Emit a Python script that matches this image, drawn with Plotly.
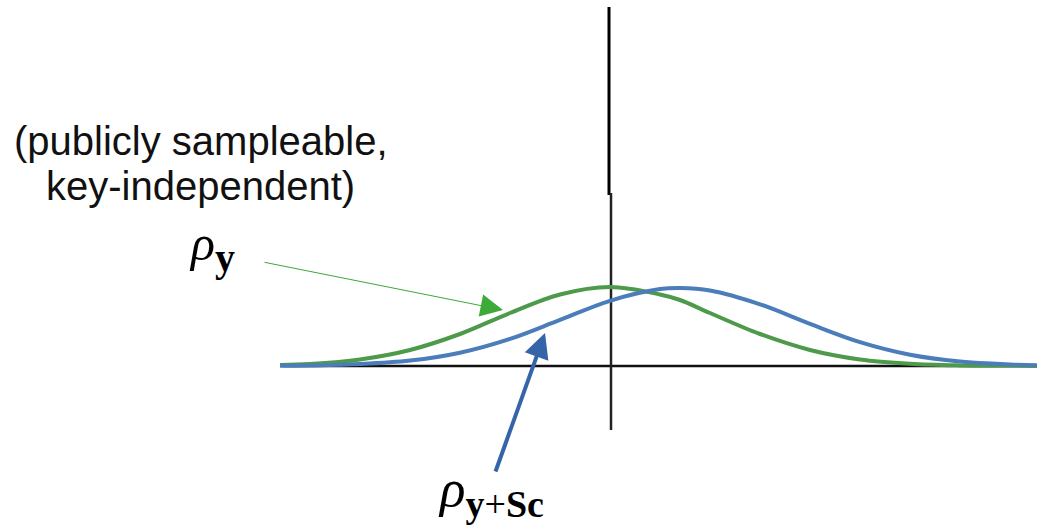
import plotly.graph_objects as go

# Sample positions along the horizontal axis (vertical axis sits at x = 0)
x_pts = [-3.3, -3.0, -2.5, -2.0, -1.5, -1.0, -0.5, 0.0, 0.5, 0.7, 1.0, 1.5,
         2.0, 2.5, 3.0, 3.5, 4.0, 4.27]

# Key-independent distribution rho_y (centred on the origin)
rho_y = [0.01, 0.02, 0.065, 0.16, 0.32, 0.53, 0.715, 0.79, 0.715, 0.66, 0.53,
         0.32, 0.16, 0.065, 0.022, 0.006, 0.002, 0.0]

# Shifted distribution rho_{y+Sc}
rho_y_sc = [0.002, 0.005, 0.019, 0.054, 0.133, 0.271, 0.461, 0.652, 0.769,
            0.78, 0.755, 0.617, 0.421, 0.239, 0.113, 0.045, 0.015, 0.007]

GREEN = "#4E9A4B"
BLUE = "#4A7DBA"

fig = go.Figure()

# Coordinate axes drawn as plain lines
fig.add_shape(type="line", x0=-3.27, x1=4.27, y0=0, y1=0,
              line=dict(color="#111111", width=2.5), layer="below")
fig.add_shape(type="line", x0=-0.01, x1=-0.01, y0=3.59, y1=1.71,
              line=dict(color="#000000", width=3), layer="below")
fig.add_shape(type="line", x0=0.01, x1=0.01, y0=1.73, y1=-0.64,
              line=dict(color="#222222", width=2.5), layer="below")

fig.add_trace(go.Scatter(x=x_pts, y=rho_y, mode="lines",
                         line=dict(color=GREEN, width=4, shape="spline"),
                         hoverinfo="skip"))
fig.add_trace(go.Scatter(x=x_pts, y=rho_y_sc, mode="lines",
                         line=dict(color=BLUE, width=4, shape="spline"),
                         hoverinfo="skip"))

# Pointer arrows to each curve
fig.add_annotation(x=-1.07, y=0.56, ax=-3.47, ay=1.04, xref="x", yref="y",
                   axref="x", ayref="y", text="", showarrow=True,
                   arrowhead=2, arrowsize=4.5, arrowwidth=1,
                   arrowcolor="#3DAA3A", standoff=0)
fig.add_annotation(x=-0.65, y=0.33, ax=-1.15, ay=-1.07, xref="x", yref="y",
                   axref="x", ayref="y", text="", showarrow=True,
                   arrowhead=2, arrowsize=1.25, arrowwidth=4,
                   arrowcolor="#3564A8", standoff=0)

# Text labels
sans = dict(family="Liberation Sans, Arial, sans-serif", size=40, color="#111111")
fig.add_annotation(x=-4.09, y=2.25, xref="x", yref="y", text="(publicly sampleable,",
                   showarrow=False, font=sans)
fig.add_annotation(x=-4.10, y=1.80, xref="x", yref="y", text="key-independent)",
                   showarrow=False, font=sans)

serif = "Liberation Serif, DejaVu Serif, serif"
fig.add_annotation(x=-3.98, y=1.19, xref="x", yref="y",
                   text="<i>ρ</i><sub><span style='font-size:40px'><b>y</b></span></sub>",
                   showarrow=False, font=dict(family=serif, size=50, color="#000000"))
fig.add_annotation(x=-1.19, y=-1.26, xref="x", yref="y",
                   text="<i>ρ</i><sub><span style='font-size:38px'>"
                        "<b>y</b>+<b>Sc</b></span></sub>",
                   showarrow=False, font=dict(family=serif, size=53, color="#000000"))

fig.update_layout(
    width=1037, height=531,
    margin=dict(l=0, r=0, t=0, b=0),
    paper_bgcolor="white", plot_bgcolor="white",
    showlegend=False,
    xaxis=dict(range=[-6.10, 4.27], visible=False, fixedrange=True),
    yaxis=dict(range=[-1.65, 3.66], visible=False, fixedrange=True),
)

fig.write_html("out.html")
